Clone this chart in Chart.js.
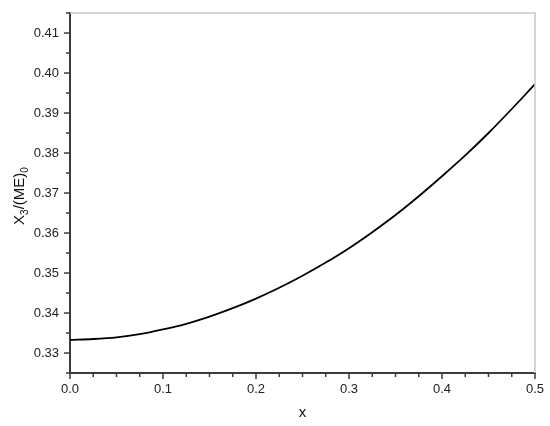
<!DOCTYPE html>
<html>
<head>
<meta charset="utf-8">
<script src="https://cdn.jsdelivr.net/npm/chart.js@4/dist/chart.umd.min.js"></script>
<style>
  html, body { margin: 0; padding: 0; background: #fff; }
  #wrap { width: 550px; height: 426px; position: relative; }
</style>
</head>
<body>
<div id="wrap"><canvas id="c"></canvas></div>
<script>
// values
const xValues = [0, 0.025, 0.05, 0.075, 0.1, 0.125, 0.15, 0.175, 0.2, 0.225, 0.25,
                 0.275, 0.3, 0.325, 0.35, 0.375, 0.4, 0.425, 0.45, 0.475, 0.5];
const yValues = [0.3333, 0.3335, 0.3339, 0.3347, 0.3359, 0.3373, 0.3391, 0.3412, 0.3436, 0.3463, 0.3493,
                 0.3526, 0.3562, 0.3602, 0.3645, 0.3692, 0.3742, 0.3794, 0.3850, 0.3910, 0.3972];

const X_MIN = 0, X_MAX = 0.5, X_STEP = 0.025, X_MAJOR = 0.1;
const Y_MIN = 0.325, Y_MAX = 0.415, Y_STEP = 0.005, Y_MAJOR = 0.01;

const FONT = "'Liberation Sans', Arial, sans-serif";
const AXIS_COLOR = "#3c3c3c";

function isMajor(v, major) {
  const r = v / major;
  return Math.abs(r - Math.round(r)) < 1e-6;
}

// draws major/minor tick marks, the light top/right frame and the y title
const decorPlugin = {
  id: "decor",
  afterDraw(chart) {
    const { ctx, chartArea: a, scales } = chart;
    ctx.save();
    // top + right frame
    ctx.strokeStyle = "#c8c8c8";
    ctx.lineWidth = 1.5;
    ctx.beginPath();
    ctx.moveTo(a.left, a.top);
    ctx.lineTo(a.right, a.top);
    ctx.lineTo(a.right, a.bottom);
    ctx.stroke();

    ctx.strokeStyle = AXIS_COLOR;
    ctx.lineWidth = 1.5;
    ctx.beginPath();
    scales.x.ticks.forEach(t => {
      const px = scales.x.getPixelForValue(t.value);
      const len = isMajor(t.value, X_MAJOR) ? 6 : 4;
      ctx.moveTo(px, a.bottom);
      ctx.lineTo(px, a.bottom + len);
    });
    scales.y.ticks.forEach(t => {
      const py = scales.y.getPixelForValue(t.value);
      const len = isMajor(t.value, Y_MAJOR) ? 6 : 4;
      ctx.moveTo(a.left, py);
      ctx.lineTo(a.left - len, py);
    });
    ctx.stroke();

    // y title X3/(ME)0 with subscripts
    const parts = [
      { t: "X", sub: false }, { t: "3", sub: true },
      { t: "/(ME)", sub: false }, { t: "0", sub: true }
    ];
    const big = "15px " + FONT, small = "10px " + FONT;
    let total = 0;
    parts.forEach(p => { ctx.font = p.sub ? small : big; total += ctx.measureText(p.t).width; });
    ctx.translate(24, (a.top + a.bottom) / 2 + 3);
    ctx.rotate(-Math.PI / 2);
    ctx.fillStyle = "#111";
    ctx.textBaseline = "alphabetic";
    let x = -total / 2;
    parts.forEach(p => {
      ctx.font = p.sub ? small : big;
      ctx.fillText(p.t, x, p.sub ? 4 : 0);
      x += ctx.measureText(p.t).width;
    });
    ctx.restore();
  }
};

new Chart(document.getElementById("c"), {
  type: "line",
  data: {
    datasets: [{
      data: xValues.map((x, i) => ({ x, y: yValues[i] })),
      borderColor: "#000",
      borderWidth: 1.8,
      pointRadius: 0,
      cubicInterpolationMode: "monotone",
      fill: false
    }]
  },
  options: {
    responsive: true,
    maintainAspectRatio: false,
    animation: false,
    layout: { padding: { top: 13, right: 15, left: 0, bottom: 0 } },
    plugins: { legend: { display: false }, tooltip: { enabled: false } },
    scales: {
      x: {
        type: "linear",
        min: X_MIN, max: X_MAX,
        afterFit(s) { s.height = 53; s.paddingLeft = 0; s.paddingRight = 0; },
        border: { color: AXIS_COLOR, width: 2 },
        grid: { display: true, drawOnChartArea: false, drawTicks: false },
        ticks: {
          stepSize: X_STEP,
          autoSkip: false,
          maxRotation: 0,
          padding: 9,
          color: "#222",
          font: { family: FONT, size: 13 },
          callback: v => isMajor(v, X_MAJOR) ? v.toFixed(1) : ""
        },
        title: {
          display: true, text: "x", color: "#111",
          font: { family: FONT, size: 15 }, padding: { top: 6 }
        }
      },
      y: {
        type: "linear",
        min: Y_MIN, max: Y_MAX,
        afterFit(s) { s.width = 70; s.paddingTop = 0; s.paddingBottom = 0; },
        border: { color: AXIS_COLOR, width: 2 },
        grid: { display: true, drawOnChartArea: false, drawTicks: false },
        ticks: {
          stepSize: Y_STEP,
          autoSkip: false,
          padding: 11,
          color: "#222",
          font: { family: FONT, size: 13 },
          callback: v => isMajor(v, Y_MAJOR) ? v.toFixed(2) : ""
        }
      }
    }
  },
  plugins: [decorPlugin]
});
</script>
</body>
</html>
